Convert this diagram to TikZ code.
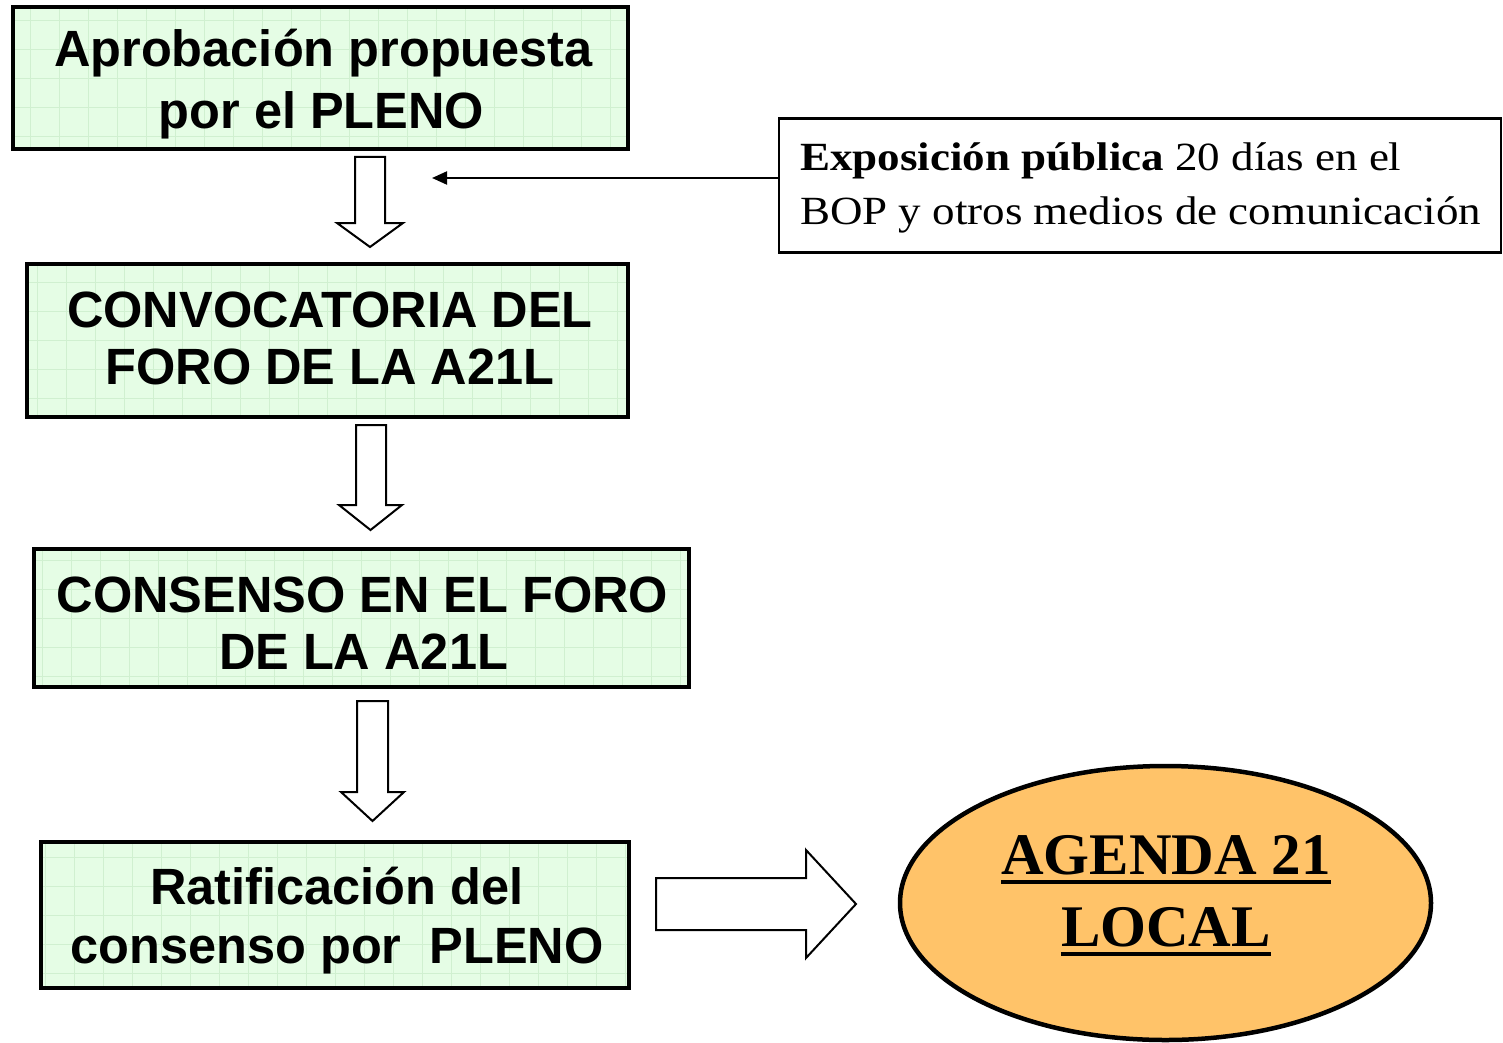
\documentclass[tikz,border=0pt]{standalone}
\usepackage{fontspec}
\usetikzlibrary{arrows.meta,shapes.geometric,calc}
\newfontfamily\sansbf{Liberation Sans}[FakeStretch=0.99]
\newfontfamily\expofont{Liberation Serif}[FakeStretch=1.125]
\newfontfamily\agendafont{Liberation Serif}
\definecolor{boxgreen}{RGB}{229,253,229}
\definecolor{gridgreen}{RGB}{208,240,208}
\definecolor{ellorange}{RGB}{255,195,105}
\tikzset{
  gbox/.style={draw=black, line width=3.3pt, fill=boxgreen, inner sep=0pt,
    path picture={\draw[gridgreen, line width=0.7pt, step=29pt]
      (path picture bounding box.south west) grid (path picture bounding box.north east);}},
  gtext/.style={anchor=base, inner sep=0pt, font=\sansbf\bfseries\fontsize{51}{60}\selectfont},
  blockarrow/.style={draw=black, line width=2pt, fill=white, line join=miter},
  expobox/.style={draw=black, line width=2.4pt, fill=white, inner sep=0pt},
  expotext/.style={anchor=base west, inner sep=0pt, font=\expofont\fontsize{40}{48}\selectfont},
  agtext/.style={anchor=base, inner sep=0pt, font=\agendafont\bfseries\fontsize{59}{70}\selectfont},
  thinarrow/.style={line width=2pt, -{Triangle[length=15pt,width=13pt]}},
}
\begin{document}
\begin{tikzpicture}[x=1pt,y=-1pt]
\path[use as bounding box, fill=white] (0,0) rectangle (1503,1043);

% green boxes
\node[gbox, minimum width=615pt, minimum height=142pt] (b1) at (320.5,78) {};
\node[gtext] (b1l1) at (323.5,67) {Aprobación propuesta};
\node[gtext] (b1l2) at (321.5,128.5) {por el PLENO};

\node[gbox, minimum width=601pt, minimum height=153pt] (b2) at (327.5,340.5) {};
\node[gtext] (b2l1) at (330,327) {CONVOCATORIA DEL};
\node[gtext] (b2l2) at (330,384) {FORO DE LA A21L};

\node[gbox, minimum width=655pt, minimum height=138pt] (b3) at (361.5,618) {};
\node[gtext] (b3l1) at (362.5,612) {CONSENSO EN EL FORO};
\node[gtext] (b3l2) at (363.5,669) {DE LA A21L};

\node[gbox, minimum width=588pt, minimum height=146pt] (b4) at (335,915) {};
\node[gtext] (b4l1) at (337,904) {Ratificación del};
\node[gtext] (b4l2) at (337,963) {consenso por\ \ PLENO};

% block arrows down
\draw[blockarrow] (355,157) -- (385,157) -- (385,223) -- (403,223) -- (370,247) -- (337,223) -- (355,223) -- cycle;
\draw[blockarrow] (356,425) -- (386,425) -- (386,505) -- (402,505) -- (370.5,530) -- (339,505) -- (356,505) -- cycle;
\draw[blockarrow] (357,701) -- (388,701) -- (388,792) -- (404,792) -- (372.5,821) -- (341,792) -- (357,792) -- cycle;

% block arrow right
\draw[blockarrow] (656,878) -- (806,878) -- (806,850) -- (856,904) -- (806,958) -- (806,930) -- (656,930) -- cycle;

% exposition box
\node[expobox, minimum width=722pt, minimum height=134pt] (expo) at (1140,185.5) {};
\node[expotext] (ex1) at (800,171) {\textbf{Exposición pública} 20 días en el};
\node[expotext] (ex2) at (800,224) {BOP y otros medios de comunicación};
\coordinate (tipA) at (432,178);
\draw[thinarrow] (expo.west |- tipA) -- (tipA);

% ellipse
\node[ellipse, draw=black, line width=4.5pt, fill=ellorange, minimum width=531pt, minimum height=274pt, inner sep=0pt] (agenda) at (1165.5,903) {};
\node[agtext] (ag1) at (1166,874) {AGENDA 21};
\node[agtext] (ag2) at (1166,946) {LOCAL};
\draw[line width=4pt] ([yshift=-8pt]ag1.base west) -- ([yshift=-8pt]ag1.base east);
\draw[line width=4.5pt] ([yshift=-8pt]ag2.base west) -- ([yshift=-8pt]ag2.base east);
\end{tikzpicture}
\end{document}
